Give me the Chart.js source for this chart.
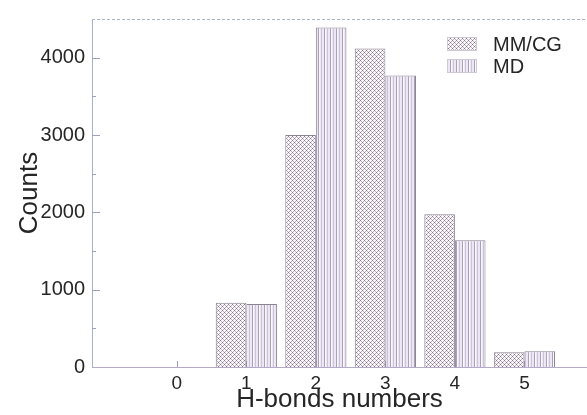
<!DOCTYPE html>
<html>
<head>
<meta charset="utf-8">
<script src="https://cdn.jsdelivr.net/npm/chart.js@4/dist/chart.umd.min.js"></script>
<style>
  html, body { margin: 0; padding: 0; background: #ffffff; }
  #wrap { width: 587px; height: 415px; }
</style>
</head>
<body>
<div id="wrap"><canvas id="chart" width="587" height="415"></canvas></div>
<script>
// Number of hydrogen bonds per frame
const hbonds = [0, 1, 2, 3, 4, 5];
const seriesNames = ['MM/CG', 'MD'];
const mmcgCounts = [0, 830, 3000, 4120, 1975, 190];
const mdCounts   = [0, 815, 4390, 3770, 1640, 205];
const yTickLabels = [0, 1000, 2000, 3000, 4000];

const FONT = "'Liberation Sans', Arial, Helvetica, sans-serif";
const TEXT = '#262626';

// Cross-hatched fill (small diamond lattice of dots)
function crossHatch() {
  const c = document.createElement('canvas');
  c.width = 4; c.height = 4;
  const g = c.getContext('2d');
  g.fillStyle = '#fbf6fa';
  g.fillRect(0, 0, 4, 4);
  g.fillStyle = '#7f7888';
  [[0,0],[2,2]].forEach(([px, py]) => g.fillRect(px, py, 1, 1));
  g.fillStyle = '#b7afbd';
  [[1,1],[3,3],[1,3],[3,1]].forEach(([px, py]) => g.fillRect(px, py, 1, 1));
  return g.createPattern(c, 'repeat');
}

// Vertical-striped fill
function stripes() {
  const c = document.createElement('canvas');
  c.width = 6; c.height = 6;
  const g = c.getContext('2d');
  g.fillStyle = '#ede7f4';
  g.fillRect(0, 0, 6, 6);
  g.fillStyle = '#a89fba';
  g.fillRect(0, 0, 1, 6);
  g.fillStyle = '#cbc2dc';
  g.fillRect(3, 0, 1, 6);
  g.fillStyle = '#fbf8fd';
  g.fillRect(1, 0, 1, 6);
  return g.createPattern(c, 'repeat');
}

const fills = [crossHatch(), stripes()];
const seriesValues = [mmcgCounts, mdCounts];

// Inward tick marks, dashed top frame line
const axisDecor = {
  id: 'axisDecor',
  beforeDatasetsDraw(chart) {
    const { ctx, chartArea: a, scales: { x, y } } = chart;
    ctx.save();
    ctx.lineWidth = 1;
    ctx.strokeStyle = '#aab2cc';
    ctx.setLineDash([3, 2]);
    ctx.beginPath();
    ctx.moveTo(a.left, a.top + 0.5);
    ctx.lineTo(a.right, a.top + 0.5);
    ctx.stroke();
    ctx.setLineDash([]);
    ctx.strokeStyle = '#9aa3c2';
    y.ticks.forEach(t => {
      if (t.value <= y.min || t.value >= y.max) return;
      const py = Math.round(y.getPixelForValue(t.value)) + 0.5;
      const len = t.value % 1000 === 0 ? 8 : 4;
      ctx.beginPath();
      ctx.moveTo(a.left, py);
      ctx.lineTo(a.left + len, py);
      ctx.stroke();
    });
    ctx.strokeStyle = '#a49cb4';
    x.ticks.forEach(t => {
      const px = Math.round(x.getPixelForValue(t.value)) + 0.5;
      ctx.beginPath();
      ctx.moveTo(px, a.bottom);
      ctx.lineTo(px, a.bottom - 6);
      ctx.stroke();
    });
    ctx.restore();
  }
};

// Legend box in the upper right of the plot
const patternLegend = {
  id: 'patternLegend',
  afterDraw(chart) {
    const { ctx, chartArea: a } = chart;
    ctx.save();
    const bx = a.right - 140, by = a.top + 18;
    seriesNames.forEach((name, i) => {
      const top = by + i * 22;
      ctx.fillStyle = fills[i];
      ctx.fillRect(bx, top, 30, 14);
      ctx.strokeStyle = '#cfc9d6';
      ctx.lineWidth = 1;
      ctx.strokeRect(bx + 0.5, top + 0.5, 29, 13);
      ctx.fillStyle = TEXT;
      ctx.font = '20px ' + FONT;
      ctx.textBaseline = 'middle';
      ctx.textAlign = 'left';
      ctx.fillText(name, bx + 46, top + 8);
    });
    ctx.restore();
  }
};

new Chart(document.getElementById('chart'), {
  type: 'bar',
  data: {
    datasets: seriesNames.map((name, i) => ({
      label: name,
      data: hbonds.map((h, k) => ({ x: h, y: seriesValues[i][k] })),
      backgroundColor: fills[i],
      borderColor: '#8a8491',
      borderWidth: 1,
      categoryPercentage: 0.88,
      barPercentage: 1.0
    }))
  },
  options: {
    responsive: false,
    devicePixelRatio: 1,
    animation: false,
    layout: { padding: { top: 16, left: 0, right: 0, bottom: 0 } },
    plugins: { legend: { display: false }, tooltip: { enabled: false } },
    scales: {
      x: {
        type: 'linear',
        min: -1.22,
        max: 5.9,
        offset: false,
        afterBuildTicks: s => { s.ticks = hbonds.map(v => ({ value: v })); },
        afterFit: s => { s.height = 48; },
        grid: { display: false, drawTicks: false, offset: false },
        border: { display: true, color: '#b4a9c6', width: 1 },
        ticks: {
          padding: 5,
          color: TEXT,
          font: { family: FONT, size: 19 },
          maxRotation: 0,
          autoSkip: false
        },
        title: {
          display: true,
          text: 'H-bonds numbers',
          color: TEXT,
          font: { family: FONT, size: 26, lineHeight: 1 },
          padding: { top: 0, bottom: 2 }
        }
      },
      y: {
        min: 0,
        max: 4500,
        afterFit: s => { s.width = 92; },
        grid: { display: false, drawTicks: false },
        border: { display: true, color: '#a7b0cc', width: 1 },
        ticks: {
          stepSize: 500,
          padding: 7,
          color: TEXT,
          font: { family: FONT, size: 20 },
          callback: v => (yTickLabels.includes(v) ? String(v) : '')
        },
        title: {
          display: true,
          text: 'Counts',
          color: TEXT,
          font: { family: FONT, size: 26, lineHeight: 1 },
          padding: { top: 17, bottom: 0 }
        }
      }
    }
  },
  plugins: [axisDecor, patternLegend]
});
</script>
</body>
</html>
